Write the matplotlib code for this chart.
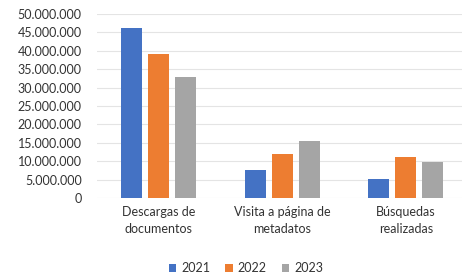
import matplotlib
matplotlib.use("Agg")
import matplotlib.pyplot as plt
import numpy as np
from matplotlib.ticker import FuncFormatter

categories = ["Descargas de\ndocumentos", "Visita a página de\nmetadatos", "Búsquedas\nrealizadas"]
years = ["2021", "2022", "2023"]
v2021 = [46200000, 7600000, 5100000]
v2022 = [39000000, 11900000, 11200000]
v2023 = [32800000, 15400000, 9800000]
series = [v2021, v2022, v2023]
colors = ["#4472C4", "#ED7D31", "#A5A5A5"]

plt.rcParams['font.family'] = ['Lato', 'DejaVu Sans']
fig = plt.figure(figsize=(4.62, 2.78), dpi=100)
ax = fig.add_axes([97/462, 1-198/278, (462-97)/462, (198-14)/278])

x = np.arange(len(categories))
w = 0.17
step = 0.22
for i, (vals, c, yr) in enumerate(zip(series, colors, years)):
    ax.bar(x + (i-1)*step, vals, width=w, color=c, label=yr, zorder=3)

ax.set_xlim(-0.5, 2.456)
ax.set_ylim(0, 50000000)
ax.set_yticks(np.arange(0, 50000001, 5000000))
ax.yaxis.set_major_formatter(FuncFormatter(lambda v, p: f"{int(v):,}".replace(",", ".")))
ax.grid(axis='y', color='#E4E4E4', linewidth=0.8, zorder=0)
for s in ax.spines.values():
    s.set_visible(False)
ax.tick_params(axis='y', length=0, pad=11, labelsize=9, labelcolor='#333333')
ax.set_xticks(x)
ax.set_xticklabels(categories, fontsize=9, color='#333333', linespacing=1.5)
ax.tick_params(axis='x', length=0, pad=6)

fig.legend(loc='center', bbox_to_anchor=(246/462, 1-268/278), ncol=3, frameon=False,
           fontsize=9, handlelength=0.6, handleheight=0.6, handletextpad=0.4,
           columnspacing=1.2, labelcolor='#333333')

fig.savefig("out.png", dpi=100)
